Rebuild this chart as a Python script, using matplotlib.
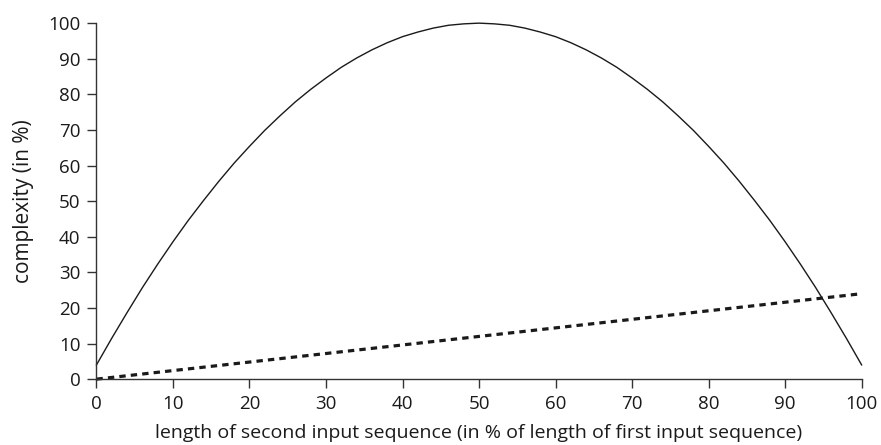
import matplotlib
matplotlib.use("Agg")
import matplotlib.pyplot as plt

plt.rcParams['font.family'] = ['Open Sans', 'DejaVu Sans']

# data
x_curve = [0, 2, 4, 6, 8, 10, 12, 14, 16, 18, 20, 22, 24, 26, 28, 30, 32, 34, 36, 38,
           40, 42, 44, 46, 48, 50, 52, 54, 56, 58, 60, 62, 64, 66, 68, 70, 72, 74, 76,
           78, 80, 82, 84, 86, 88, 90, 92, 94, 96, 98, 100]
y_curve = [4.0, 11.5, 18.7, 25.7, 32.3, 38.6, 44.6, 50.2, 55.6, 60.7, 65.4, 69.9, 74.0,
           77.9, 81.4, 84.6, 87.6, 90.2, 92.5, 94.5, 96.2, 97.5, 98.6, 99.4, 99.8, 100.0,
           99.8, 99.4, 98.6, 97.5, 96.2, 94.5, 92.5, 90.2, 87.6, 84.6, 81.4, 77.9, 74.0,
           69.9, 65.4, 60.7, 55.6, 50.2, 44.6, 38.6, 32.3, 25.7, 18.7, 11.5, 4.0]
x_line = [0, 100]
y_line = [0, 24]
ticks = [0, 10, 20, 30, 40, 50, 60, 70, 80, 90, 100]
xlabel = "length of second input sequence (in % of length of first input sequence)"
ylabel = "complexity (in %)"

fig = plt.figure(figsize=(8.81, 4.45), dpi=100)
ax = fig.add_axes([0.1095, 0.148, 0.8685, 0.8])

ax.plot(x_curve, y_curve, color='#1a1a1a', lw=1.0, clip_on=False)
ax.plot(x_line, y_line, color='#1a1a1a', lw=2.3, dashes=(2.0, 1.6), clip_on=False)

ax.set_xlim(0, 100)
ax.set_ylim(0, 100)
ax.set_xticks(ticks)
ax.set_yticks(ticks)
for s in ['top', 'right']:
    ax.spines[s].set_visible(False)
for s in ['left', 'bottom']:
    ax.spines[s].set_color('#333333')
    ax.spines[s].set_linewidth(1.0)
ax.tick_params(direction='out', length=6.5, width=1.0, color='#333333',
               labelsize=13.5, labelcolor='#1a1a1a', pad=5)
ax.set_xlabel(xlabel, fontsize=14, color='#1a1a1a', labelpad=8)
ax.set_ylabel(ylabel, fontsize=15, color='#1a1a1a', labelpad=10)

fig.savefig("out.png", dpi=100)
